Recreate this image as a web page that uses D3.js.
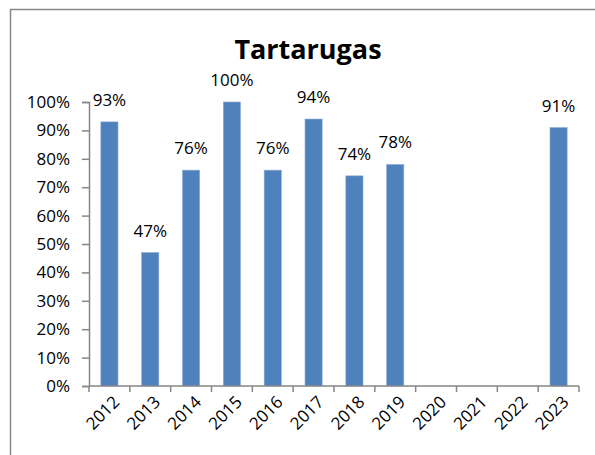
<!DOCTYPE html>
<html>
<head>
  <meta charset="utf-8" />
  <script src="https://d3js.org/d3.v7.min.js"></script>
  <style>
    body { margin: 0; background: #fff; }
    text { font-family: "Open Sans", sans-serif; fill: #000; }
  </style>
</head>
<body>
  <script>
    var years = ["2012", "2013", "2014", "2015", "2016", "2017", "2018", "2019", "2020", "2021", "2022", "2023"];
    var values = [93, 47, 76, 100, 76, 94, 74, 78, null, null, null, 91];
    var yTicks = [0, 10, 20, 30, 40, 50, 60, 70, 80, 90, 100];
    var title = "Tartarugas";

    var W = 595, H = 455;
    var plotL = 89, plotR = 579, plotT = 102, plotB = 386;

    var x = d3.scaleBand().domain(years).range([plotL, plotR]).paddingInner(0.58).paddingOuter(0.29);
    var y = d3.scaleLinear().domain([0, 100]).range([plotB, plotT]);

    var svg = d3.select("body").append("svg")
      .attr("width", W)
      .attr("height", H);

    // chart area border (runs off the right and bottom edges)
    svg.append("rect")
      .attr("x", 10.5).attr("y", 9.5)
      .attr("width", 700).attr("height", 600)
      .attr("fill", "none")
      .attr("stroke", "#888")
      .attr("stroke-width", 1.5);

    svg.append("text")
      .attr("x", 308).attr("y", 59)
      .attr("text-anchor", "middle")
      .style("font-weight", "bold")
      .style("font-size", "27px")
      .text(title);

    var data = years.map(function(d, i) { return { year: d, value: values[i] }; });
    var present = data.filter(function(d) { return d.value != null; });

    svg.selectAll(".bar")
      .data(present)
      .enter().append("rect")
      .attr("class", "bar")
      .attr("x", function(d) { return x(d.year); })
      .attr("width", x.bandwidth())
      .attr("y", function(d) { return y(d.value); })
      .attr("height", function(d) { return y(0) - y(d.value); })
      .attr("fill", "#4f81bd")
      .attr("stroke", "#8eaad6")
      .attr("stroke-width", 0.6);

    svg.selectAll(".lbl")
      .data(present)
      .enter().append("text")
      .attr("class", "lbl")
      .attr("x", function(d) { return x(d.year) + x.bandwidth() / 2; })
      .attr("y", function(d) { return y(d.value) - 16; })
      .attr("text-anchor", "middle")
      .style("font-size", "17px")
      .text(function(d) { return d.value + "%"; });

    var yAxis = d3.axisLeft(y)
      .tickValues(yTicks)
      .tickSize(7)
      .tickPadding(12)
      .tickFormat(function(d) { return d + "%"; });

    var gy = svg.append("g")
      .attr("transform", "translate(" + plotL + ",0)")
      .call(yAxis);
    gy.select(".domain").attr("stroke", "#868686").attr("stroke-width", 1.5);
    gy.selectAll(".tick line").attr("stroke", "#868686").attr("stroke-width", 1.5);
    gy.selectAll(".tick text")
      .style("font-size", "17px")
      .style("font-family", "'Open Sans', sans-serif");

    var xEdge = d3.scaleLinear().domain([0, years.length]).range([plotL, plotR]);
    var gx = svg.append("g").attr("transform", "translate(0," + plotB + ")");
    gx.append("line")
      .attr("x1", plotL).attr("x2", plotR)
      .attr("stroke", "#868686").attr("stroke-width", 1.5);
    gx.selectAll(".xt")
      .data(d3.range(years.length + 1))
      .enter().append("line")
      .attr("x1", function(i) { return xEdge(i); })
      .attr("x2", function(i) { return xEdge(i); })
      .attr("y1", 0).attr("y2", 6)
      .attr("stroke", "#868686").attr("stroke-width", 1.5);

    gx.selectAll(".xl")
      .data(years)
      .enter().append("text")
      .attr("transform", function(d) {
        return "translate(" + (x(d) + x.bandwidth() / 2 + 7) + ",13) rotate(-45)";
      })
      .attr("text-anchor", "end")
      .attr("dy", "0.35em")
      .style("font-size", "17px")
      .text(function(d) { return d; });
  </script>
</body>
</html>
